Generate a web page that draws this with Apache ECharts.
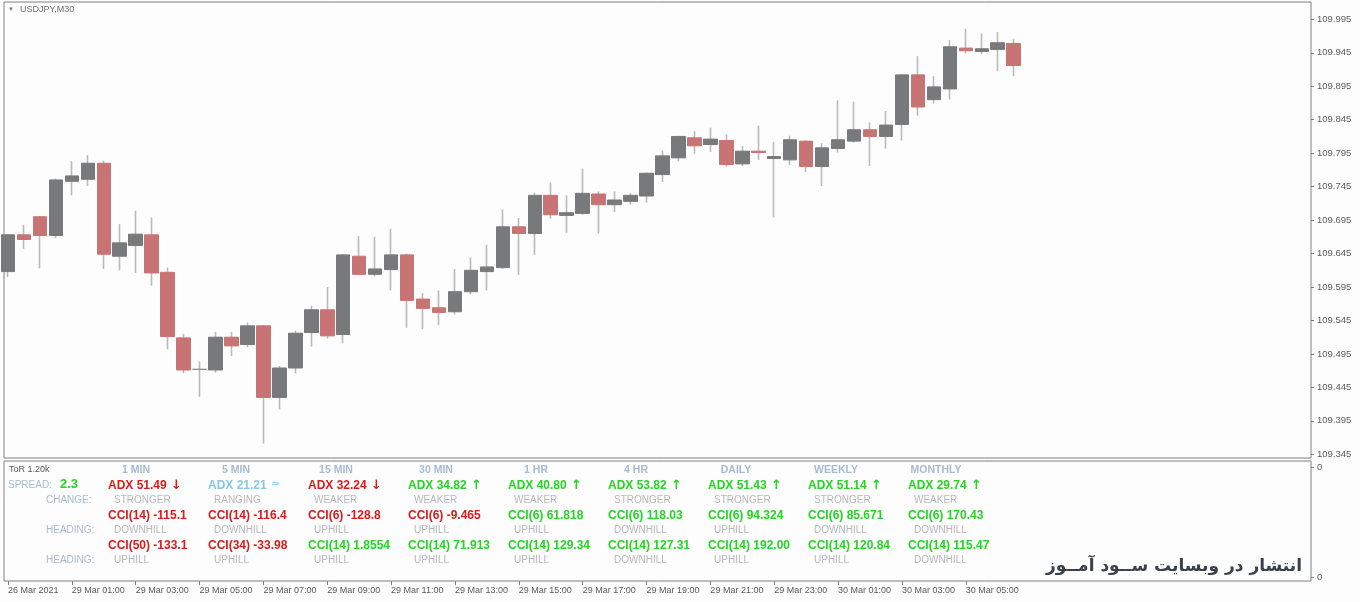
<!DOCTYPE html>
<html>
<head>
<meta charset="utf-8">
<script src="https://cdn.jsdelivr.net/npm/echarts@6/dist/echarts.min.js"></script>
<style>
html,body{margin:0;padding:0;background:#fdfdfd;}
#chart{width:1360px;height:602px;}
</style>
</head>
<body>
<div id="chart"></div>
<script>
// ---------- DATA ----------
const symbolTitle = 'USDJPY,M30';
const opens = [109.618,109.673,109.700,109.672,109.753,109.756,109.780,109.641,109.657,109.673,
  109.617,109.519,109.472,109.471,109.520,109.509,109.537,109.430,109.474,109.527,
  109.561,109.524,109.641,109.614,109.621,109.643,109.577,109.564,109.558,109.588,
  109.618,109.624,109.685,109.675,109.732,109.702,109.705,109.734,109.718,109.723,
  109.731,109.763,109.788,109.818,109.808,109.814,109.779,109.798,109.787,109.785,
  109.813,109.775,109.802,109.813,109.830,109.820,109.838,109.912,109.875,109.891,
  109.952,109.947,109.950,109.959];
const closes = [109.673,109.666,109.672,109.755,109.761,109.780,109.644,109.661,109.674,109.616,
  109.521,109.471,109.472,109.520,109.507,109.537,109.430,109.474,109.526,109.561,
  109.522,109.643,109.614,109.622,109.643,109.575,109.563,109.557,109.588,109.620,
  109.625,109.685,109.675,109.732,109.703,109.706,109.735,109.718,109.725,109.732,
  109.765,109.791,109.820,109.806,109.816,109.778,109.798,109.796,109.790,109.815,
  109.775,109.803,109.815,109.830,109.820,109.837,109.912,109.864,109.894,109.954,
  109.948,109.951,109.960,109.926];
const lows = [109.610,109.652,109.623,109.668,109.732,109.746,109.622,109.620,109.616,109.597,
  109.502,109.466,109.431,109.467,109.492,109.505,109.361,109.412,109.466,109.506,
  109.518,109.511,109.613,109.611,109.590,109.534,109.532,109.538,109.554,109.584,
  109.590,109.622,109.613,109.643,109.697,109.676,109.703,109.675,109.707,109.718,
  109.721,109.752,109.783,109.794,109.797,109.775,109.776,109.785,109.699,109.777,
  109.767,109.746,109.796,109.811,109.776,109.802,109.814,109.851,109.869,109.875,
  109.944,109.943,109.918,109.910];
const highs = [109.674,109.688,109.701,109.757,109.783,109.792,109.784,109.689,109.709,109.699,
  109.624,109.525,109.484,109.528,109.528,109.542,109.538,109.477,109.530,109.567,
  109.595,109.644,109.671,109.670,109.682,109.645,109.586,109.590,109.622,109.639,
  109.658,109.711,109.698,109.736,109.751,109.732,109.772,109.738,109.738,109.735,
  109.766,109.799,109.821,109.828,109.833,109.823,109.806,109.836,109.812,109.821,
  109.814,109.810,109.874,109.872,109.841,109.858,109.913,109.940,109.910,109.964,
  109.981,109.974,109.976,109.966];
const priceTicks = [109.345,109.395,109.445,109.495,109.545,109.595,109.645,109.695,
  109.745,109.795,109.845,109.895,109.945,109.995];
const timeTickLabels = ['26 Mar 2021','29 Mar 01:00','29 Mar 03:00','29 Mar 05:00','29 Mar 07:00',
  '29 Mar 09:00','29 Mar 11:00','29 Mar 13:00','29 Mar 15:00','29 Mar 17:00','29 Mar 19:00',
  '29 Mar 21:00','29 Mar 23:00','30 Mar 01:00','30 Mar 03:00','30 Mar 05:00'];
const barsPerTimeTick = 4;
const emptySlotsRight = 18;

// indicator panel
const torText = 'ToR 1.20k';
const spreadValue = '2.3';
const timeframes = ['1 MIN','5 MIN','15 MIN','30 MIN','1 HR','4 HR','DAILY','WEEKLY','MONTHLY'];
const adxValues = ['51.49','21.21','32.24','34.82','40.80','53.82','51.43','51.14','29.74'];
const adxTrend = ['down','flat','down','up','up','up','up','up','up'];
const adxChange = ['STRONGER','RANGING','WEAKER','WEAKER','WEAKER','STRONGER','STRONGER','STRONGER','WEAKER'];
const cciFastPeriods = [14,14,6,6,6,6,6,6,6];
const cciFastValues = ['-115.1','-116.4','-128.8','-9.465','61.818','118.03','94.324','85.671','170.43'];
const cciFastHeading = ['DOWNHILL','DOWNHILL','UPHILL','UPHILL','UPHILL','DOWNHILL','UPHILL','DOWNHILL','DOWNHILL'];
const cciSlowPeriods = [50,34,14,14,14,14,14,14,14];
const cciSlowValues = ['-133.1','-33.98','1.8554','71.913','129.34','127.31','192.00','120.84','115.47'];
const cciSlowHeading = ['UPHILL','UPHILL','UPHILL','UPHILL','UPHILL','DOWNHILL','UPHILL','UPHILL','DOWNHILL'];
const watermark = 'انتشار در وبسایت ســود آمــوز';

// ---------- BUILD ----------
const FONT = '"Liberation Sans", Arial, sans-serif';
const RED = '#dd1a1a', GREEN = '#22d622', SKY = '#88c6e6', HEAD = '#a7bbd2', SUB = '#b7b7b7';
const BULL = '#78797b', BEAR = '#c87374', WICK = '#bababa';

const nCat = opens.length + emptySlotsRight;
const cats = [];
for (let i = 0; i < nCat; i++) {
  cats.push(i % barsPerTimeTick === 0 && i / barsPerTimeTick < timeTickLabels.length ? timeTickLabels[i / barsPerTimeTick] : '');
}
const wickData = opens.map((o, i) => [o, closes[i], lows[i], highs[i]]);
const bodyData = opens.map((o, i) => [o, closes[i], Math.min(o, closes[i]), Math.max(o, closes[i])]);
const lastClose = closes[closes.length - 1];

const yMin = 109.3395, yMax = 110.0209;
const mainTop = 2, mainH = 456, subTop = 461, subH = 120;
const slot = 16, candleLeft = -3;

function t(x, y, text, size, color, weight, align, family) {
  return { type: 'text', x: x, y: y, silent: true,
    style: { text: text, fill: color, font: (weight || 'normal') + ' ' + size + 'px ' + (family || FONT),
      align: align || 'left', verticalAlign: 'middle' } };
}
const rowY = [470, 485.5, 500, 515.5, 530, 545.5, 560];
const g = [];
g.push({ type: 'text', x: 8, y: 9.5, silent: true, style: { text: '▼', fill: '#777', font: '6px ' + FONT, align: 'left', verticalAlign: 'middle' } });
g.push(t(20, 9.5, symbolTitle, 9, '#6e6e6e'));
g.push(t(9, rowY[0], torText, 9, '#555'));
g.push(t(8, rowY[1], 'SPREAD:', 10, HEAD));
g.push(t(60, rowY[1] - 1, spreadValue, 13, GREEN, 'bold'));
g.push(t(46, rowY[2], 'CHANGE:', 10, HEAD));
g.push(t(46, rowY[4], 'HEADING:', 10, HEAD));
g.push(t(46, rowY[6], 'HEADING:', 10, HEAD));
timeframes.forEach((tf, i) => {
  const x0 = 108 + 100 * i;
  g.push(t(x0 + 28, rowY[0], tf, 10.5, HEAD, 'bold', 'center'));
  const tr = adxTrend[i];
  const col = tr === 'down' ? RED : tr === 'up' ? GREEN : SKY;
  g.push(t(x0, rowY[1], 'ADX ' + adxValues[i], 12, col, 'bold'));
  if (tr === 'flat') {
    g.push(t(x0 + 63, rowY[1] - 1, '≈', 11, SKY, 'normal', 'left', '"DejaVu Sans", sans-serif'));
  } else {
    g.push(t(x0 + 63, rowY[1], tr === 'down' ? '↓' : '↑', 13, col, 'bold', 'left', '"DejaVu Sans", sans-serif'));
  }
  g.push(t(x0 + 6, rowY[2], adxChange[i], 10, SUB));
  g.push(t(x0, rowY[3], 'CCI(' + cciFastPeriods[i] + ') ' + cciFastValues[i], 12, parseFloat(cciFastValues[i]) < 0 ? RED : GREEN, 'bold'));
  g.push(t(x0 + 6, rowY[4], cciFastHeading[i], 10, SUB));
  g.push(t(x0, rowY[5], 'CCI(' + cciSlowPeriods[i] + ') ' + cciSlowValues[i], 12, parseFloat(cciSlowValues[i]) < 0 ? RED : GREEN, 'bold'));
  g.push(t(x0 + 6, rowY[6], cciSlowHeading[i], 10, SUB));
});
g.push({ type: 'text', x: 1302, y: 567, silent: true,
  style: { text: watermark, fill: '#3b414b', font: 'bold 17px "DejaVu Sans", sans-serif', align: 'right', verticalAlign: 'middle' } });

const axisTxt = { color: '#5a5a5a', fontSize: 9.5, fontFamily: FONT };
const tickInterval = (idx) => idx % barsPerTimeTick === 0 && idx < opens.length;

const option = {
  animation: false,
  backgroundColor: '#fdfdfd',
  grid: [
    { left: candleLeft, top: mainTop, width: slot * nCat, height: mainH, show: false },
    { left: 4, top: mainTop, width: 1307, height: mainH, show: true, borderColor: '#808080', borderWidth: 1, backgroundColor: '#fdfdfd' },
    { left: 4, top: subTop, width: 1307, height: subH, show: true, borderColor: '#808080', borderWidth: 1, backgroundColor: '#fdfdfd' },
    { left: candleLeft, top: subTop, width: slot * nCat, height: subH, show: false }
  ],
  xAxis: [
    { gridIndex: 0, type: 'category', data: cats, boundaryGap: true, show: false },
    { gridIndex: 1, type: 'value', min: 0, max: 1, show: false },
    { gridIndex: 2, type: 'value', min: 0, max: 1, show: false },
    { gridIndex: 3, type: 'category', data: cats, boundaryGap: true, position: 'bottom',
      axisLine: { show: false, onZero: false },
      axisTick: { show: true, interval: tickInterval, alignWithLabel: true, length: 4, lineStyle: { color: '#808080' } },
      axisLabel: { interval: tickInterval, align: 'left', margin: 5, color: '#5a5a5a', fontSize: 9, fontFamily: FONT },
      splitLine: { show: false } }
  ],
  yAxis: [
    { gridIndex: 0, type: 'value', min: yMin, max: yMax, show: false },
    { gridIndex: 1, type: 'value', min: yMin, max: yMax, position: 'right',
      axisLine: { show: false, onZero: false }, splitLine: { show: false },
      axisTick: { show: true, customValues: priceTicks, length: 3, lineStyle: { color: '#808080' } },
      axisLabel: Object.assign({ customValues: priceTicks, margin: 6, formatter: v => v.toFixed(3) }, axisTxt) },
    { gridIndex: 2, type: 'value', min: 0, max: 1, position: 'right',
      axisLine: { show: false, onZero: false }, splitLine: { show: false },
      axisTick: { show: true, customValues: [0.03, 0.945], length: 3, lineStyle: { color: '#808080' } },
      axisLabel: Object.assign({ customValues: [0.03, 0.945], margin: 6, formatter: () => '0' }, axisTxt) },
    { gridIndex: 3, type: 'value', min: 0, max: 1, show: false }
  ],
  series: [
    { type: 'candlestick', name: 'wicks', xAxisIndex: 0, yAxisIndex: 0, barWidth: 1,
      itemStyle: { color: WICK, color0: WICK, borderColor: WICK, borderColor0: WICK, borderColorDoji: WICK, borderWidth: 1.6 },
      data: wickData, silent: true, z: 3 },
    { type: 'candlestick', name: 'bodies', xAxisIndex: 0, yAxisIndex: 0, barWidth: 14,
      itemStyle: { color: BULL, color0: BEAR, borderColor: BULL, borderColor0: BEAR, borderColorDoji: '#8a8a8a', borderWidth: 1 },
      data: bodyData, silent: true, z: 4,
      markLine: { silent: true, symbol: ['none', 'none'], animation: false,
        lineStyle: { opacity: 0 },
        label: { show: true, position: 'end', distance: 4, formatter: lastClose.toFixed(3),
          backgroundColor: '#777777', color: '#ffffff', padding: [2, 3, 1, 3], fontSize: 9.5, fontFamily: FONT },
        data: [{ yAxis: lastClose }] } }
  ],
  graphic: g
};
const chart = echarts.init(document.getElementById('chart'), null, { renderer: 'canvas' });
chart.setOption(option);
</script>
</body>
</html>
